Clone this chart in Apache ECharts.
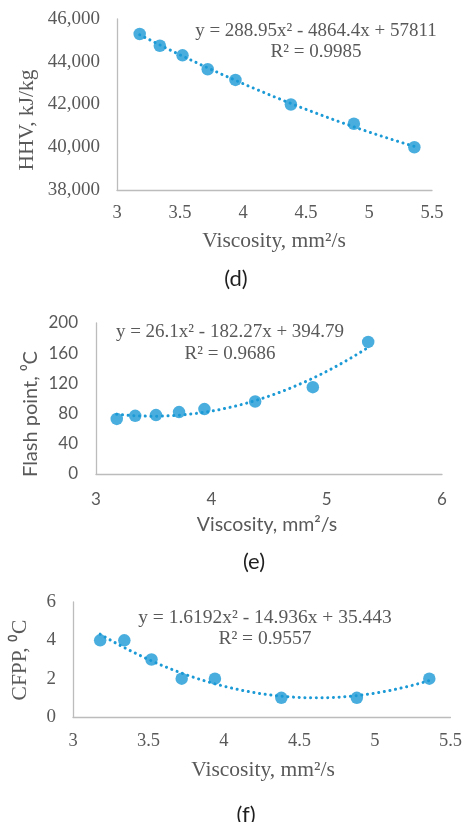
<!DOCTYPE html>
<html>
<head>
<meta charset="utf-8">
<script src="https://cdn.jsdelivr.net/npm/echarts@6/dist/echarts.min.js"></script>
<style>
html,body{margin:0;padding:0;background:#fff;}
#c{width:465px;height:822px;}
</style>
</head>
<body>
<div id="c"></div>
<script>
// Data
var viscosity = [3.18, 3.34, 3.52, 3.72, 3.94, 4.38, 4.88, 5.36];
var hhv = [45300, 44750, 44300, 43650, 43150, 42000, 41100, 40000];
var flashPoint = [73, 77, 78, 82, 86, 96, 115, 175];
var cfpp = [4, 4, 3, 2, 2, 1, 1, 2];
// Trendline coefficients shown on the chart [a, b, c] for a*x^2 + b*x + c
var hhvCoef = [288.95, -4864.4, 57811];
var flashCoef = [26.1, -182.27, 394.79];
var cfppCoef = [1.6192, -14.936, 35.443];
// Tick labels
var xTicksD = [3, 3.5, 4, 4.5, 5, 5.5];
var yTicksD = [38000, 40000, 42000, 44000, 46000];
var xTicksE = [3, 4, 5, 6];
var yTicksE = [0, 40, 80, 120, 160, 200];
var xTicksF = [3, 3.5, 4, 4.5, 5, 5.5];
var yTicksF = [0, 2, 4, 6];

var BLUE = '#1b9ad6';
var TXT = '#595959';
var AXC = '#bcbcbc';
var SERIF = '"Liberation Serif","Times New Roman",serif';
var SANS = 'Lato,"Open Sans",sans-serif';

function pairs(xs, ys){ return xs.map(function(x,i){ return [x, ys[i]]; }); }
function trend(coef, xs){
  var lo = Math.min.apply(null, xs), hi = Math.max.apply(null, xs), out = [];
  var n = 60;
  for (var i = 0; i <= n; i++) {
    var x = lo + (hi - lo) * i / n;
    out.push([x, coef[0]*x*x + coef[1]*x + coef[2]]);
  }
  return out;
}
function xAxis(idx, ticks, font, size, margin){
  return {
    type:'value', gridIndex: idx,
    min: ticks[0], max: ticks[ticks.length-1], interval: ticks[1]-ticks[0],
    axisLine:{show:true, lineStyle:{color:AXC, width:1.3}},
    axisTick:{show:false}, splitLine:{show:false},
    axisLabel:{color:TXT, fontFamily:font, fontSize:size, margin:margin}
  };
}
function yAxis(idx, ticks, font, size, margin, fmt){
  return {
    type:'value', gridIndex: idx,
    min: ticks[0], max: ticks[ticks.length-1], interval: ticks[1]-ticks[0],
    axisLine:{show:true, lineStyle:{color:AXC, width:1.3}},
    axisTick:{show:false}, splitLine:{show:false},
    axisLabel:{color:TXT, fontFamily:font, fontSize:size, margin:margin, formatter: fmt}
  };
}
function trendSeries(idx, coef, xs){
  return {
    type:'line', xAxisIndex:idx, yAxisIndex:idx, data: trend(coef, xs),
    showSymbol:false, smooth:false, silent:true, z:1,
    lineStyle:{color:BLUE, width:3, type:[0.1, 5.6], cap:'round'}
  };
}
function scatterSeries(idx, xs, ys){
  return {
    type:'scatter', xAxisIndex:idx, yAxisIndex:idx, data: pairs(xs, ys),
    symbol:'circle', symbolSize:12.5, z:3,
    itemStyle:{color:BLUE}
  };
}
function txt(x, y, s, font, size, rot, color){
  return {
    type:'text', x:x, y:y, rotation: rot || 0,
    style:{text:s, fill:color || TXT, font: size + 'px ' + font, textAlign:'center', textVerticalAlign:'middle'}
  };
}

var chart = echarts.init(document.getElementById('c'), null, {renderer:'canvas'});
chart.setOption({
  animation:false,
  grid:[
    {left:117, top:19, width:315, height:171},
    {left:96, top:323, width:346, height:151},
    {left:73, top:602, width:380, height:115}
  ],
  xAxis:[
    xAxis(0, xTicksD, SERIF, 18.5, 14),
    xAxis(1, xTicksE, SANS, 17, 17),
    xAxis(2, xTicksF, SERIF, 18.5, 15)
  ],
  yAxis:[
    yAxis(0, yTicksD, SERIF, 19, 17, function(v){ return v.toLocaleString('en-US'); }),
    yAxis(1, yTicksE, SANS, 17, 18),
    yAxis(2, yTicksF, SERIF, 19, 17)
  ],
  series:[
    trendSeries(0, hhvCoef, viscosity), scatterSeries(0, viscosity, hhv),
    trendSeries(1, flashCoef, viscosity), scatterSeries(1, viscosity, flashPoint),
    trendSeries(2, cfppCoef, viscosity), scatterSeries(2, viscosity, cfpp)
  ],
  graphic:[
    // chart (d)
    txt(316, 31, 'y = 288.95x² - 4864.4x + 57811', SERIF, 19),
    txt(316, 52, 'R² = 0.9985', SERIF, 19),
    txt(274, 241, 'Viscosity, mm²/s', SERIF, 21.5),
    txt(27, 120, 'HHV, kJ/kg', SERIF, 21.5, Math.PI/2),
    txt(236, 279, '(d)', SANS, 22, 0, '#1f1f1f'),
    // chart (e)
    txt(230, 332, 'y = 26.1x² - 182.27x + 394.79', SERIF, 19),
    txt(230, 354, 'R² = 0.9686', SERIF, 19),
    txt(267, 525, 'Viscosity, mm²/s', SANS, 19.5),
    txt(31, 414, 'Flash point, ⁰C', SANS, 20, Math.PI/2),
    txt(254, 562, '(e)', SANS, 22, 0, '#1f1f1f'),
    // chart (f)
    txt(265, 618, 'y = 1.6192x² - 14.936x + 35.443', SERIF, 19.5),
    txt(265, 639, 'R² = 0.9557', SERIF, 19.5),
    txt(263, 770, 'Viscosity, mm²/s', SERIF, 21.5),
    txt(20, 660, 'CFPP, ⁰C', SERIF, 21.5, Math.PI/2),
    txt(246, 815, '(f)', SANS, 22, 0, '#1f1f1f')
  ]
});
</script>
</body>
</html>
